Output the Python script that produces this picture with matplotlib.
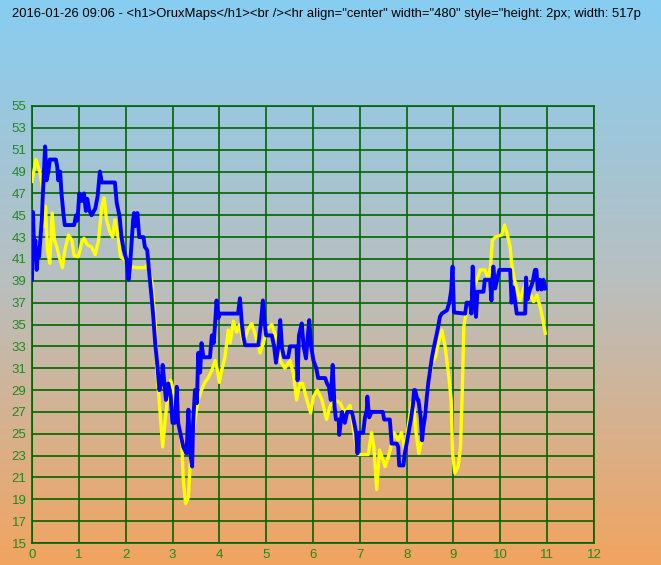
import numpy as np
import matplotlib
matplotlib.use("Agg")
import matplotlib.pyplot as plt
from matplotlib.colors import LinearSegmentedColormap

# Chart title (the original is cut at the right edge after "517p")
title = ('2016-01-26 09:06 - <h1>OruxMaps</h1><br /><hr align="center" '
         'width="480" style="height: 2px; width: 517p')

# Yellow series
yellow_x = [0.00, 0.085, 0.17, 0.23, 0.26, 0.29, 0.33, 0.38, 0.43, 0.48, 0.53, 0.58,
            0.65, 0.70, 0.78, 0.85, 0.90, 0.99, 1.06, 1.11, 1.18, 1.27, 1.35, 1.42,
            1.49, 1.54, 1.59, 1.67, 1.72, 1.77, 1.84, 1.89, 1.99, 2.09, 2.24, 2.41,
            2.48, 2.56, 2.63, 2.66, 2.72, 2.79, 2.85, 2.89, 2.96, 3.02, 3.07, 3.15,
            3.20, 3.23, 3.28, 3.34, 3.37, 3.41, 3.48, 3.55, 3.62, 3.69, 3.76, 3.84,
            3.91, 3.96, 4.00, 4.05, 4.12, 4.19, 4.23, 4.30, 4.37, 4.43, 4.51, 4.61,
            4.69, 4.78, 4.87, 4.94, 5.01, 5.12, 5.23, 5.30, 5.40, 5.51, 5.58, 5.65,
            5.72, 5.78, 5.85, 5.95, 6.01, 6.09, 6.19, 6.29, 6.36, 6.47, 6.58, 6.68,
            6.79, 6.90, 6.97, 7.18, 7.25, 7.30, 7.36, 7.42, 7.47, 7.54, 7.61, 7.68,
            7.73, 7.82, 7.89, 7.96, 8.03, 8.11, 8.16, 8.20, 8.26, 8.32, 8.39, 8.46,
            8.54, 8.61, 8.68, 8.75, 8.82, 8.89, 8.95, 8.98, 9.03, 9.10, 9.15, 9.19,
            9.22, 9.28, 9.35, 9.42, 9.50, 9.57, 9.67, 9.74, 9.79, 9.83, 9.89, 10.03,
            10.09, 10.14, 10.21, 10.24, 10.29, 10.35, 10.42, 10.49, 10.56, 10.63,
            10.71, 10.78, 10.85, 10.91, 10.96]
yellow_y = [48.1, 50.1, 48.9, 47.3, 44.0, 45.8, 41.8, 40.6, 45.2, 42.7, 42.1, 41.2,
            40.2, 41.8, 43.2, 42.7, 41.3, 41.2, 42.5, 42.9, 42.3, 42.1, 41.4, 42.7,
            45.8, 46.6, 44.6, 43.4, 43.0, 44.6, 43.0, 41.2, 40.9, 40.3, 40.2, 40.2,
            40.6, 38.8, 35.1, 31.1, 27.8, 23.8, 26.5, 28.1, 29.9, 29.0, 26.3, 25.6,
            23.8, 20.8, 18.6, 19.2, 21.7, 24.1, 26.3, 28.1, 29.0, 29.7, 30.1, 30.8,
            31.7, 30.8, 29.7, 30.8, 32.0, 34.5, 33.3, 35.3, 34.3, 35.0, 33.3, 34.5,
            35.1, 33.9, 32.4, 33.3, 34.5, 35.0, 33.6, 31.7, 31.0, 31.7, 30.5, 28.1,
            29.6, 29.6, 28.4, 26.9, 28.4, 29.0, 28.1, 26.3, 27.5, 28.1, 27.8, 26.9,
            27.6, 24.4, 23.1, 23.1, 25.1, 23.8, 19.9, 23.5, 22.9, 22.0, 22.9, 24.1,
            25.1, 24.4, 25.1, 23.5, 25.6, 27.9, 27.2, 25.1, 23.2, 24.4, 27.2, 29.6,
            31.4, 32.0, 33.3, 34.5, 33.0, 30.6, 28.1, 23.2, 21.4, 22.0, 23.8, 29.3,
            34.8, 36.3, 37.2, 38.2, 39.1, 40.0, 40.0, 39.2, 40.3, 42.7, 43.0, 43.2,
            44.1, 43.4, 42.1, 40.6, 39.3, 38.4, 37.2, 38.2, 39.1, 37.9,
            37.1, 37.7, 36.6, 35.4, 34.2]

# Blue series
blue_x = [0.00, 0.02, 0.05, 0.07, 0.10, 0.13, 0.15, 0.19, 0.21, 0.23, 0.26, 0.28,
          0.31, 0.35, 0.38, 0.51, 0.54, 0.56, 0.60, 0.63, 0.67, 0.70, 0.90, 0.94,
          0.97, 1.01, 1.06, 1.11, 1.15, 1.18, 1.22, 1.27, 1.35, 1.40, 1.45, 1.49,
          1.77, 1.81, 1.87, 1.91, 1.96, 2.02, 2.06, 2.09, 2.13, 2.16, 2.18, 2.20,
          2.25, 2.29, 2.38, 2.41, 2.46, 2.51, 2.56, 2.59, 2.63, 2.68, 2.72, 2.77,
          2.79, 2.82, 2.86, 2.91, 2.96, 3.00, 3.05, 3.09, 3.12, 3.17, 3.23, 3.30,
          3.34, 3.38, 3.42, 3.44, 3.48, 3.52, 3.55, 3.59, 3.62, 3.66, 3.80, 3.84,
          3.88, 3.91, 3.94, 3.98, 4.01, 4.40, 4.44, 4.48, 4.51, 4.55, 4.83, 4.88,
          4.93, 4.97, 5.00, 5.12, 5.17, 5.21, 5.26, 5.30, 5.34, 5.38, 5.47, 5.51,
          5.65, 5.67, 5.70, 5.76, 5.80, 5.85, 5.89, 5.92, 5.96, 6.01, 6.07, 6.11,
          6.26, 6.30, 6.34, 6.38, 6.42, 6.46, 6.49, 6.55, 6.56, 6.62, 6.68, 6.73,
          6.83, 6.88, 6.92, 6.95, 6.98, 7.07, 7.11, 7.15, 7.16, 7.20, 7.25, 7.49,
          7.52, 7.64, 7.68, 7.79, 7.82, 7.84, 7.93, 7.96, 8.00, 8.04, 8.09, 8.13,
          8.16, 8.18, 8.23, 8.25, 8.30, 8.33, 8.35, 8.39, 8.43, 8.46, 8.50, 8.54,
          8.58, 8.63, 8.66, 8.71, 8.75, 8.86, 8.91, 8.95, 8.98, 9.01, 9.25, 9.28,
          9.35, 9.38, 9.41, 9.44, 9.48, 9.51, 9.64, 9.67, 9.78, 9.81, 9.85, 9.89,
          9.93, 9.98, 10.21, 10.22, 10.24, 10.27, 10.30, 10.35, 10.53, 10.55, 10.58,
          10.63, 10.67, 10.70, 10.74, 10.77, 10.80, 10.85, 10.88, 10.92, 10.96]
blue_y = [39.1, 45.3, 41.0, 42.7, 40.0, 42.0, 41.2, 43.5, 44.6, 46.7, 49.4, 51.3,
          48.2, 49.0, 50.1, 50.1, 49.4, 48.2, 49.0, 47.0, 45.2, 44.1, 44.1, 45.0,
          44.5, 47.0, 46.3, 47.0, 45.4, 46.5, 45.5, 45.0, 45.6, 46.7, 49.0, 48.0,
          48.0, 46.1, 44.9, 43.0, 41.8, 40.9, 39.1, 40.2, 42.7, 44.6, 45.2, 44.0,
          45.2, 43.0, 43.0, 42.1, 41.8, 39.4, 37.2, 35.7, 33.3, 31.1, 29.0, 29.9,
          31.3, 29.9, 28.1, 29.6, 28.5, 26.0, 26.0, 29.3, 26.0, 25.0, 23.8, 23.2,
          27.2, 23.2, 22.0, 26.0, 29.0, 27.8, 32.4, 30.6, 33.3, 32.0, 32.0, 34.0,
          33.3, 35.1, 37.2, 35.6, 36.0, 36.0, 37.4, 35.1, 34.0, 33.1, 33.1, 34.8,
          37.2, 35.1, 34.0, 34.0, 33.0, 31.5, 33.0, 35.4, 32.8, 32.0, 32.0, 33.0,
          33.0, 29.9, 34.0, 35.1, 33.0, 31.9, 34.0, 35.4, 33.0, 31.7, 31.0, 30.1,
          30.1, 29.6, 29.3, 28.1, 31.3, 27.5, 26.3, 26.3, 24.9, 27.0, 26.0, 27.0,
          27.0, 26.0, 25.1, 23.2, 25.1, 25.1, 26.5, 27.2, 28.4, 26.5, 27.0, 27.0,
          26.3, 26.3, 24.1, 24.1, 23.8, 22.1, 22.1, 23.2, 24.1, 25.1, 26.3, 27.5,
          29.0, 29.0, 28.1, 28.1, 26.5, 24.4, 25.4, 26.5, 28.4, 29.6, 30.8, 32.0,
          32.9, 33.9, 34.5, 35.7, 36.0, 36.3, 37.0, 38.1, 40.3, 36.1, 36.0, 37.0,
          37.0, 36.0, 40.3, 37.6, 35.7, 38.0, 38.0, 39.1, 39.1, 37.2, 40.3, 38.3,
          39.1, 40.0, 40.0, 39.1, 37.0, 38.4, 37.6, 36.0, 36.0, 39.3, 37.3,
          38.2, 38.6, 39.1, 40.0, 40.0, 38.2, 39.1, 38.2, 39.1, 38.3]

x_ticks = list(range(0, 13))
y_ticks = list(range(15, 56, 2))

fig = plt.figure(figsize=(6.61, 5.65), dpi=100)

# Background gradient: light blue at top to sandy orange at bottom
bg = fig.add_axes([0, 0, 1, 1], zorder=0)
cmap = LinearSegmentedColormap.from_list("bg", ["#87cdf2", "#b9bfbf", "#f2a45f"])
bg.imshow(np.linspace(0, 1, 256).reshape(-1, 1), aspect="auto", cmap=cmap,
          extent=[0, 1, 0, 1])
bg.axis("off")

ax = fig.add_axes([32 / 661, 22 / 565, 562 / 661, 437 / 565], zorder=1)
ax.patch.set_alpha(0)

ax.plot(yellow_x, yellow_y, color="#ffff00", lw=2.4, zorder=3)
ax.plot(blue_x, blue_y, color="#0000ff", lw=2.8, zorder=4)

ax.set_xlim(0, 12)
ax.set_ylim(15, 55)
ax.set_xticks(x_ticks)
ax.set_yticks(y_ticks)
ax.grid(True, color="#006400", lw=1.2, zorder=1)
for s in ax.spines.values():
    s.set_color("#006400")
    s.set_linewidth(1.2)
ax.tick_params(length=0, colors="#1f8a1f", labelsize=9.5, pad=4)
for lab in ax.get_xticklabels() + ax.get_yticklabels():
    lab.set_family("Liberation Sans")

fig.text(12 / 661, 1 - 17 / 565, title, fontsize=9.4, family="Liberation Sans",
         color="black", va="baseline", ha="left")

fig.savefig("out.png", dpi=100)
